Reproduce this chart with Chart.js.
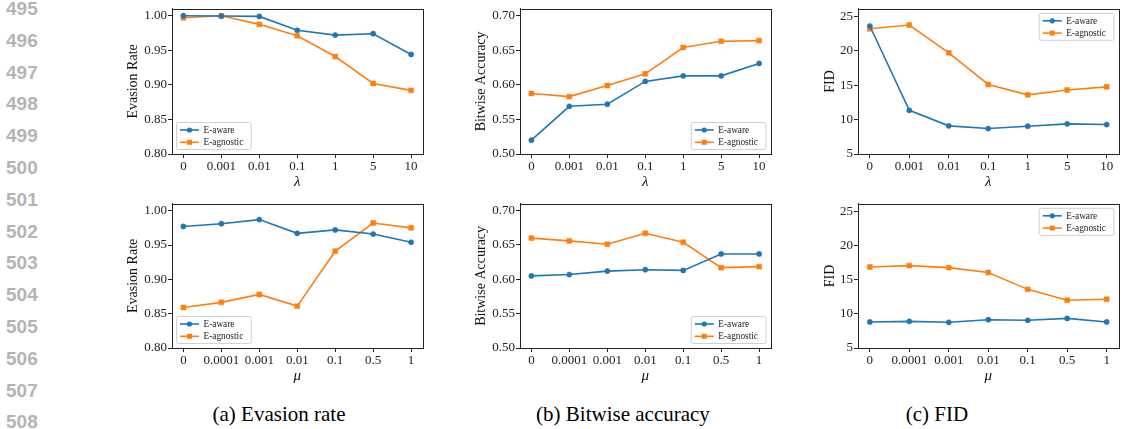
<!DOCTYPE html>
<html>
<head>
<meta charset="utf-8">
<script src="https://cdn.jsdelivr.net/npm/chart.js@4.4.1/dist/chart.umd.min.js"></script>
<style>
    body { margin: 0; background: #fff; width: 1123px; height: 429px; overflow: hidden; position: relative; }
    canvas { position: absolute; }
    .lineno { position: absolute; left: 6px; font: bold 19px "Liberation Sans", Arial, sans-serif; color: #b4b4b4; }
    .caption { position: absolute; top: 402px; font: 21px "Liberation Serif", serif; color: #000; white-space: nowrap; transform: translateX(-50%); }
</style>
</head>
<body>
<canvas id="rateLambda"></canvas>
<canvas id="accLambda"></canvas>
<canvas id="fidLambda"></canvas>
<canvas id="rateMu"></canvas>
<canvas id="accMu"></canvas>
<canvas id="fidMu"></canvas>
<div class="caption" style="left:279px">(a) Evasion rate</div>
<div class="caption" style="left:623px">(b) Bitwise accuracy</div>
<div class="caption" style="left:937px">(c) FID</div>
<script>
    //categories and tick labels
    const lambdaLabels = ["0", "0.001", "0.01", "0.1", "1", "5", "10"];
    const muLabels = ["0", "0.0001", "0.001", "0.01", "0.1", "0.5", "1"];
    const rateTicks = [0.80, 0.85, 0.90, 0.95, 1.00];
    const accTicks = [0.50, 0.55, 0.60, 0.65, 0.70];
    const fidTicks = [5, 10, 15, 20, 25];
    const seriesNames = ["E-aware", "E-agnostic"];

    //values
    const rateLambdaAware = [1.000, 0.9995, 0.999, 0.979, 0.972, 0.974, 0.944];
    const rateLambdaAgnostic = [0.997, 1.000, 0.9875, 0.971, 0.941, 0.902, 0.892];
    const accLambdaAware = [0.520, 0.569, 0.572, 0.605, 0.613, 0.613, 0.631];
    const accLambdaAgnostic = [0.5875, 0.583, 0.599, 0.616, 0.654, 0.663, 0.664];
    const fidLambdaAware = [23.6, 11.35, 9.09, 8.70, 9.04, 9.38, 9.28];
    const fidLambdaAgnostic = [23.2, 23.75, 19.7, 15.1, 13.6, 14.3, 14.76];
    const rateMuAware = [0.977, 0.981, 0.987, 0.967, 0.972, 0.966, 0.954];
    const rateMuAgnostic = [0.859, 0.8665, 0.878, 0.861, 0.941, 0.982, 0.975];
    const accMuAware = [0.605, 0.607, 0.612, 0.614, 0.613, 0.637, 0.637];
    const accMuAgnostic = [0.660, 0.656, 0.651, 0.667, 0.654, 0.617, 0.6185];
    const fidMuAware = [8.81, 8.90, 8.76, 9.14, 9.05, 9.33, 8.81];
    const fidMuAgnostic = [16.86, 17.05, 16.76, 16.04, 13.58, 11.99, 12.13];

    const blue = "#1f77b4";
    const orange = "#ff7f0e";
    const serif = "'Liberation Serif', 'Times New Roman', serif";

    //line numbers down the left margin
    for (let i = 0; i < 14; i++) {
        const d = document.createElement("div");
        d.className = "lineno";
        d.style.top = (-2 + i * 31.8) + "px";
        d.textContent = 495 + i;
        document.body.appendChild(d);
    }

    //frame on all four sides + legend box inside the plot
    const boxLegend = {
        id: "boxLegend",
        afterDraw(chart, args, opts) {
            const ctx = chart.ctx;
            const a = chart.chartArea;
            ctx.save();
            ctx.strokeStyle = "#222";
            ctx.lineWidth = 1;
            ctx.strokeRect(Math.round(a.left) + 0.5, Math.round(a.top) + 0.5,
                Math.round(a.right - a.left), Math.round(a.bottom - a.top));

            ctx.font = "9.3px " + serif;
            let tw = 0;
            chart.data.datasets.forEach(ds => { tw = Math.max(tw, ctx.measureText(ds.label).width); });
            const w = 31 + tw + 4;
            const h = 27;
            const off = 4.5;
            let bx = opts.corner.includes("Left") ? a.left + off : a.right - off - w;
            let by = opts.corner.includes("lower") ? a.bottom - off - h : a.top + off;

            ctx.fillStyle = "rgba(255,255,255,0.85)";
            ctx.strokeStyle = "#d0d0d0";
            ctx.beginPath();
            ctx.roundRect(bx, by, w, h, 2);
            ctx.fill();
            ctx.stroke();

            chart.data.datasets.forEach((ds, i) => {
                const y = by + 7.5 + i * 12.3;
                ctx.strokeStyle = ds.borderColor;
                ctx.lineWidth = 1.6;
                ctx.beginPath();
                ctx.moveTo(bx + 3.5, y);
                ctx.lineTo(bx + 22.5, y);
                ctx.stroke();
                ctx.fillStyle = ds.borderColor;
                if (ds.pointStyle === "rect") {
                    ctx.fillRect(bx + 13 - 2.5, y - 2.5, 5, 5);
                } else {
                    ctx.beginPath();
                    ctx.arc(bx + 13, y, 2.6, 0, Math.PI * 2);
                    ctx.fill();
                }
                ctx.fillStyle = "#222";
                ctx.textBaseline = "middle";
                ctx.fillText(ds.label, bx + 27, y + 0.5);
            });
            ctx.restore();
        }
    };

    function makeChart(id, box, cats, aware, agnostic, yTicks, yMax, decimals, yTitle, xTitle, yTitlePad, corner) {
        const canvas = document.getElementById(id);
        const left = box.left - 72;
        const top = box.top - 8;
        canvas.width = Math.round(box.right - left + 2);
        canvas.height = Math.round(box.bottom - top + 42);
        canvas.style.left = left + "px";
        canvas.style.top = top + "px";

        const series = [aware, agnostic];
        const datasets = series.map((vals, k) => ({
            label: seriesNames[k],
            data: vals.map((v, i) => ({ x: i, y: v })),
            borderColor: k === 0 ? blue : orange,
            backgroundColor: k === 0 ? blue : orange,
            pointBackgroundColor: k === 0 ? blue : orange,
            pointBorderColor: k === 0 ? blue : orange,
            pointBorderWidth: 0.5,
            pointStyle: k === 0 ? "circle" : "rect",
            pointRadius: k === 0 ? 2.6 : 3.5,
            borderWidth: 1.6,
            tension: 0
        }));

        return new Chart(canvas, {
            type: "line",
            data: { datasets: datasets },
            plugins: [boxLegend],
            options: {
                responsive: false,
                animation: false,
                layout: { padding: { top: 8, right: 2, left: 0, bottom: 0 } },
                plugins: {
                    legend: { display: false },
                    tooltip: { enabled: false },
                    boxLegend: { corner: corner }
                },
                scales: {
                    x: {
                        type: "linear",
                        min: -0.3,
                        max: cats.length - 0.7,
                        afterBuildTicks: s => { s.ticks = cats.map((c, i) => ({ value: i })); },
                        afterFit: s => { s.height = 42; },
                        ticks: {
                            callback: v => cats[v],
                            font: { family: serif, size: 13 },
                            color: "#222",
                            padding: 1,
                            maxRotation: 0,
                            autoSkip: false
                        },
                        grid: { drawOnChartArea: false, tickLength: 4, color: "#222" },
                        border: { color: "#222" },
                        title: {
                            display: true,
                            text: xTitle,
                            font: { family: serif, size: 15, style: "italic" },
                            color: "#111",
                            padding: { top: 0, bottom: 5 }
                        }
                    },
                    y: {
                        min: yTicks[0],
                        max: yMax,
                        afterBuildTicks: s => { s.ticks = yTicks.map(v => ({ value: v })); },
                        afterFit: s => { s.width = 72; },
                        ticks: {
                            callback: v => v.toFixed(decimals),
                            font: { family: serif, size: 13 },
                            color: "#222",
                            padding: 1
                        },
                        grid: { drawOnChartArea: false, tickLength: 4, color: "#222" },
                        border: { color: "#222" },
                        title: {
                            display: true,
                            text: yTitle,
                            font: { family: serif, size: 14 },
                            color: "#111",
                            padding: { top: yTitlePad, bottom: 0 }
                        }
                    }
                }
            }
        });
    }

    const col1 = { left: 172, right: 425 };
    const col2 = { left: 520, right: 773 };
    const col3 = { left: 858, right: 1121 };
    const row1 = { top: 8, bottom: 154 };
    const row2 = { top: 203, bottom: 348 };
    const cell = (c, r) => ({ left: c.left, right: c.right, top: r.top, bottom: r.bottom });

    makeChart("rateLambda", cell(col1, row1), lambdaLabels, rateLambdaAware, rateLambdaAgnostic,
        rateTicks, 1.01, 2, "Evasion Rate", "λ", 25, "lowerLeft");
    makeChart("accLambda", cell(col2, row1), lambdaLabels, accLambdaAware, accLambdaAgnostic,
        accTicks, 0.71, 2, "Bitwise Accuracy", "λ", 25.3, "lowerRight");
    makeChart("fidLambda", cell(col3, row1), lambdaLabels, fidLambdaAware, fidLambdaAgnostic,
        fidTicks, 26.1, 0, "FID", "λ", 35.6, "upperRight");
    makeChart("rateMu", cell(col1, row2), muLabels, rateMuAware, rateMuAgnostic,
        rateTicks, 1.01, 2, "Evasion Rate", "μ", 25, "lowerLeft");
    makeChart("accMu", cell(col2, row2), muLabels, accMuAware, accMuAgnostic,
        accTicks, 0.71, 2, "Bitwise Accuracy", "μ", 25.3, "lowerRight");
    makeChart("fidMu", cell(col3, row2), muLabels, fidMuAware, fidMuAgnostic,
        fidTicks, 26.1, 0, "FID", "μ", 35.6, "upperRight");
</script>
</body>
</html>
